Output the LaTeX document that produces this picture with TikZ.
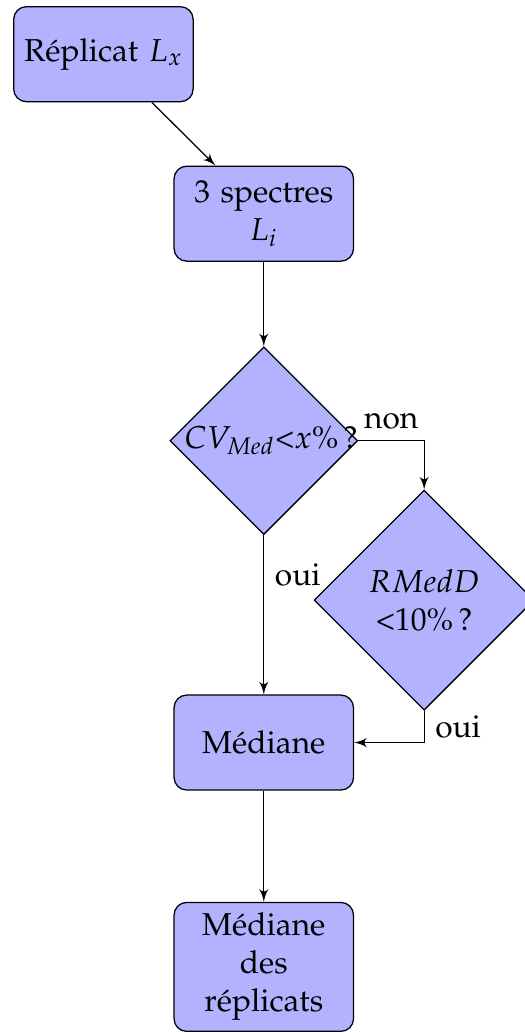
\documentclass[tikz,border=0pt]{standalone}
\usepackage[T1]{fontenc}
\usepackage{mathpazo}
\usepackage{tikz}
\usetikzlibrary{matrix,arrows,shapes.geometric}

\tikzset{
	block/.style={rectangle, draw, fill=blue!30, text width=5em, text centered, rounded corners, minimum height=3em, anchor=center, execute at begin node={\hyphenpenalty=10000}},
	decision/.style={diamond, draw, fill=blue!30, text width=5em, text badly centered, inner sep=0pt, anchor=center, execute at begin node={\hyphenpenalty=10000}},
	line/.style={draw, -latex'}
}

\begin{document}
\begin{tikzpicture}
\matrix (m) [matrix of nodes, row sep={1.77cm,between origins}, column sep={1.78cm,between origins}]
{
	|[block]| R\'eplicat~$L_x$ & & \\
	& |[block]| 3 spectres $L_i$ & \\[0.75cm]
	& |[decision]| $CV_{Med}$<$x$\%\,? & \\
	& & |[decision]| $RMedD$ <10\%\,? \\[-0.19cm]
	& |[block]| M\'ediane & \\[0.72cm]
	& |[block]| M\'ediane des r\'eplicats & \\
};
\path[line] (m-1-1) -- (m-2-2);
\path[line] (m-2-2) -- (m-3-2);
\path[line] (m-3-2) -- node [near start, right] {oui} (m-5-2);
\path[line] (m-3-2) -| node [near start, above] {non} (m-4-3);
\path[line] (m-4-3) |- node [near start, right] {oui} (m-5-2);
\path[line] (m-5-2) -- (m-6-2);
% cadre
\coordinate (bbtl) at ([shift={(-0.145,0.067)}]m-1-1.north west);
\coordinate (bbr) at ([xshift=-0.12cm]m-4-3.east);
\pgfresetboundingbox
\useasboundingbox (bbtl) rectangle (bbr |- m-6-2.south);
\end{tikzpicture}
\end{document}
